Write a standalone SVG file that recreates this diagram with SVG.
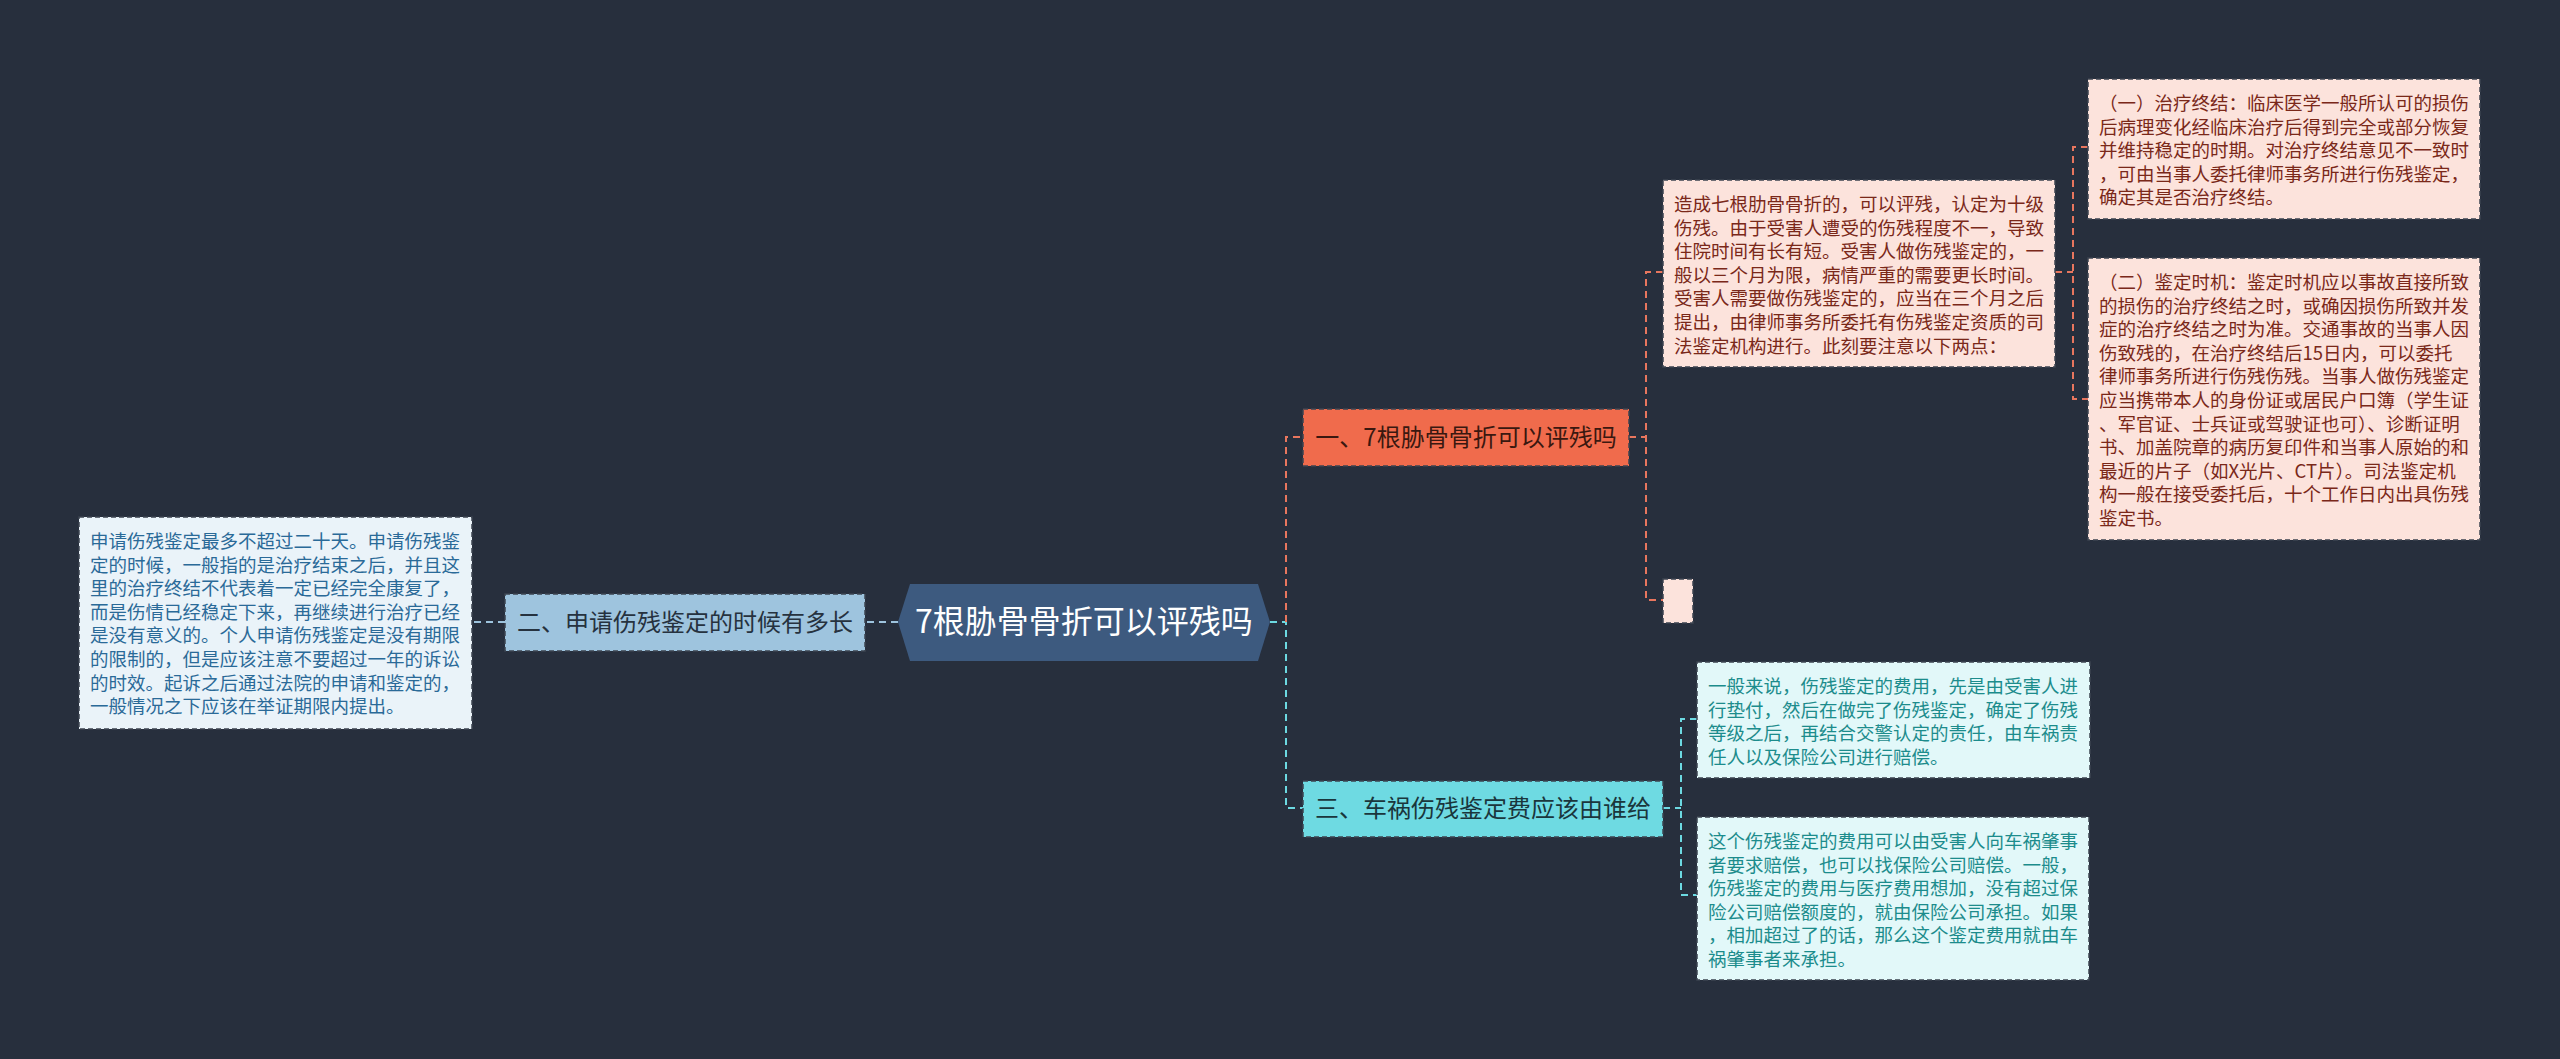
<svg xmlns="http://www.w3.org/2000/svg" width="2560" height="1059" viewBox="0 0 2560 1059">
<style>
text{font-family:"Noto Sans CJK SC","Noto Sans",sans-serif}
.t{font-size:18.5px}
.pk{fill:#7a2819}
.bl{fill:#2a6a98}
.cy{fill:#1c8c8c}
.box{stroke:#3c4450;stroke-width:1.5;stroke-dasharray:5 3}
.c{fill:none;stroke-width:2;stroke-dasharray:7 5}
.co{stroke:#e8765e}
.cc{stroke:#6cd9e2}
.cb{stroke:#9ec4de}
.nt{font-size:24px;text-anchor:middle}
</style>
<rect width="2560" height="1059" fill="#272f3d"/>
<g id="connectors">
<path class="c cb" d="M898 622H865"/>
<path class="c cb" d="M505 622H472"/>
<path class="c cc" d="M1270 622H1286V808H1303"/>
<path class="c co" d="M1286 622V437H1303"/>
<path class="c co" d="M1629 437H1646M1663 272H1646V600H1663"/>
<path class="c co" d="M2055 272H2073M2088 147H2073V399H2088"/>
<path class="c cc" d="M1663 808H1681M1697 719H1681V895H1697"/>
</g>
<g id="root">
<polygon points="898,622 910,584 1258,584 1270,622 1258,661 910,661" fill="#3d5a7f"/>
<text x="1084" y="633" fill="#ffffff" font-size="32" text-anchor="middle">7根胁骨骨折可以评残吗</text>
</g>
<g id="n2">
<rect class="box" x="505" y="594" width="360" height="57" fill="#9ec4de"/>
<text class="nt" x="685" y="631" fill="#26323f">二、申请伤残鉴定的时候有多长</text>
</g>
<g id="n2t">
<rect class="box" x="79" y="517" width="393" height="212" fill="#eaf3f9"/>
<text class="t bl" x="90" y="548"><tspan x="90">申请伤残鉴定最多不超过二十天。申请伤残鉴</tspan><tspan x="90" dy="23.6">定的时候，一般指的是治疗结束之后，并且这</tspan><tspan x="90" dy="23.6">里的治疗终结不代表着一定已经完全康复了，</tspan><tspan x="90" dy="23.6">而是伤情已经稳定下来，再继续进行治疗已经</tspan><tspan x="90" dy="23.6">是没有意义的。个人申请伤残鉴定是没有期限</tspan><tspan x="90" dy="23.6">的限制的，但是应该注意不要超过一年的诉讼</tspan><tspan x="90" dy="23.6">的时效。起诉之后通过法院的申请和鉴定的，</tspan><tspan x="90" dy="23.6">一般情况之下应该在举证期限内提出。</tspan></text>
</g>
<g id="n1">
<rect class="box" x="1303" y="409" width="326" height="57" fill="#f06b4c"/>
<text class="nt" x="1466" y="446" fill="#3a1810">一、7根胁骨骨折可以评残吗</text>
</g>
<g id="n1t">
<rect class="box" x="1663" y="180" width="392" height="187" fill="#fce3dc"/>
<text class="t pk" x="1674" y="211"><tspan x="1674">造成七根肋骨骨折的，可以评残，认定为十级</tspan><tspan x="1674" dy="23.6">伤残。由于受害人遭受的伤残程度不一，导致</tspan><tspan x="1674" dy="23.6">住院时间有长有短。受害人做伤残鉴定的，一</tspan><tspan x="1674" dy="23.6">般以三个月为限，病情严重的需要更长时间。</tspan><tspan x="1674" dy="23.6">受害人需要做伤残鉴定的，应当在三个月之后</tspan><tspan x="1674" dy="23.6">提出，由律师事务所委托有伤残鉴定资质的司</tspan><tspan x="1674" dy="23.6">法鉴定机构进行。此刻要注意以下两点：</tspan></text>
</g>
<g id="n1a">
<rect class="box" x="2088" y="79" width="392" height="140" fill="#fce3dc"/>
<text class="t pk" x="2099" y="110"><tspan x="2099">（一）治疗终结：临床医学一般所认可的损伤</tspan><tspan x="2099" dy="23.6">后病理变化经临床治疗后得到完全或部分恢复</tspan><tspan x="2099" dy="23.6">并维持稳定的时期。对治疗终结意见不一致时</tspan><tspan x="2099" dy="23.6">，可由当事人委托律师事务所进行伤残鉴定，</tspan><tspan x="2099" dy="23.6">确定其是否治疗终结。</tspan></text>
</g>
<g id="n1b">
<rect class="box" x="2088" y="258" width="392" height="282" fill="#fce3dc"/>
<text class="t pk" x="2099" y="289"><tspan x="2099">（二）鉴定时机：鉴定时机应以事故直接所致</tspan><tspan x="2099" dy="23.6">的损伤的治疗终结之时，或确因损伤所致并发</tspan><tspan x="2099" dy="23.6">症的治疗终结之时为准。交通事故的当事人因</tspan><tspan x="2099" dy="23.6">伤致残的，在治疗终结后15日内，可以委托</tspan><tspan x="2099" dy="23.6">律师事务所进行伤残伤残。当事人做伤残鉴定</tspan><tspan x="2099" dy="23.6">应当携带本人的身份证或居民户口簿（学生证</tspan><tspan x="2099" dy="23.6">、军官证、士兵证或驾驶证也可）、诊断证明</tspan><tspan x="2099" dy="23.6">书、加盖院章的病历复印件和当事人原始的和</tspan><tspan x="2099" dy="23.6">最近的片子（如X光片、CT片）。司法鉴定机</tspan><tspan x="2099" dy="23.6">构一般在接受委托后，十个工作日内出具伤残</tspan><tspan x="2099" dy="23.6">鉴定书。</tspan></text>
</g>
<g id="n1e">
<rect class="box" x="1663" y="579" width="30" height="44" fill="#fce3dc"/>
</g>
<g id="n3">
<rect class="box" x="1303" y="781" width="360" height="56" fill="#6edae2"/>
<text class="nt" x="1483" y="817" fill="#1a363c">三、车祸伤残鉴定费应该由谁给</text>
</g>
<g id="n3a">
<rect class="box" x="1697" y="662" width="393" height="116" fill="#e2f8f9"/>
<text class="t cy" x="1708" y="693"><tspan x="1708">一般来说，伤残鉴定的费用，先是由受害人进</tspan><tspan x="1708" dy="23.6">行垫付，然后在做完了伤残鉴定，确定了伤残</tspan><tspan x="1708" dy="23.6">等级之后，再结合交警认定的责任，由车祸责</tspan><tspan x="1708" dy="23.6">任人以及保险公司进行赔偿。</tspan></text>
</g>
<g id="n3b">
<rect class="box" x="1697" y="817" width="392" height="163" fill="#e2f8f9"/>
<text class="t cy" x="1708" y="848"><tspan x="1708">这个伤残鉴定的费用可以由受害人向车祸肇事</tspan><tspan x="1708" dy="23.6">者要求赔偿，也可以找保险公司赔偿。一般，</tspan><tspan x="1708" dy="23.6">伤残鉴定的费用与医疗费用想加，没有超过保</tspan><tspan x="1708" dy="23.6">险公司赔偿额度的，就由保险公司承担。如果</tspan><tspan x="1708" dy="23.6">，相加超过了的话，那么这个鉴定费用就由车</tspan><tspan x="1708" dy="23.6">祸肇事者来承担。</tspan></text>
</g>
</svg>
